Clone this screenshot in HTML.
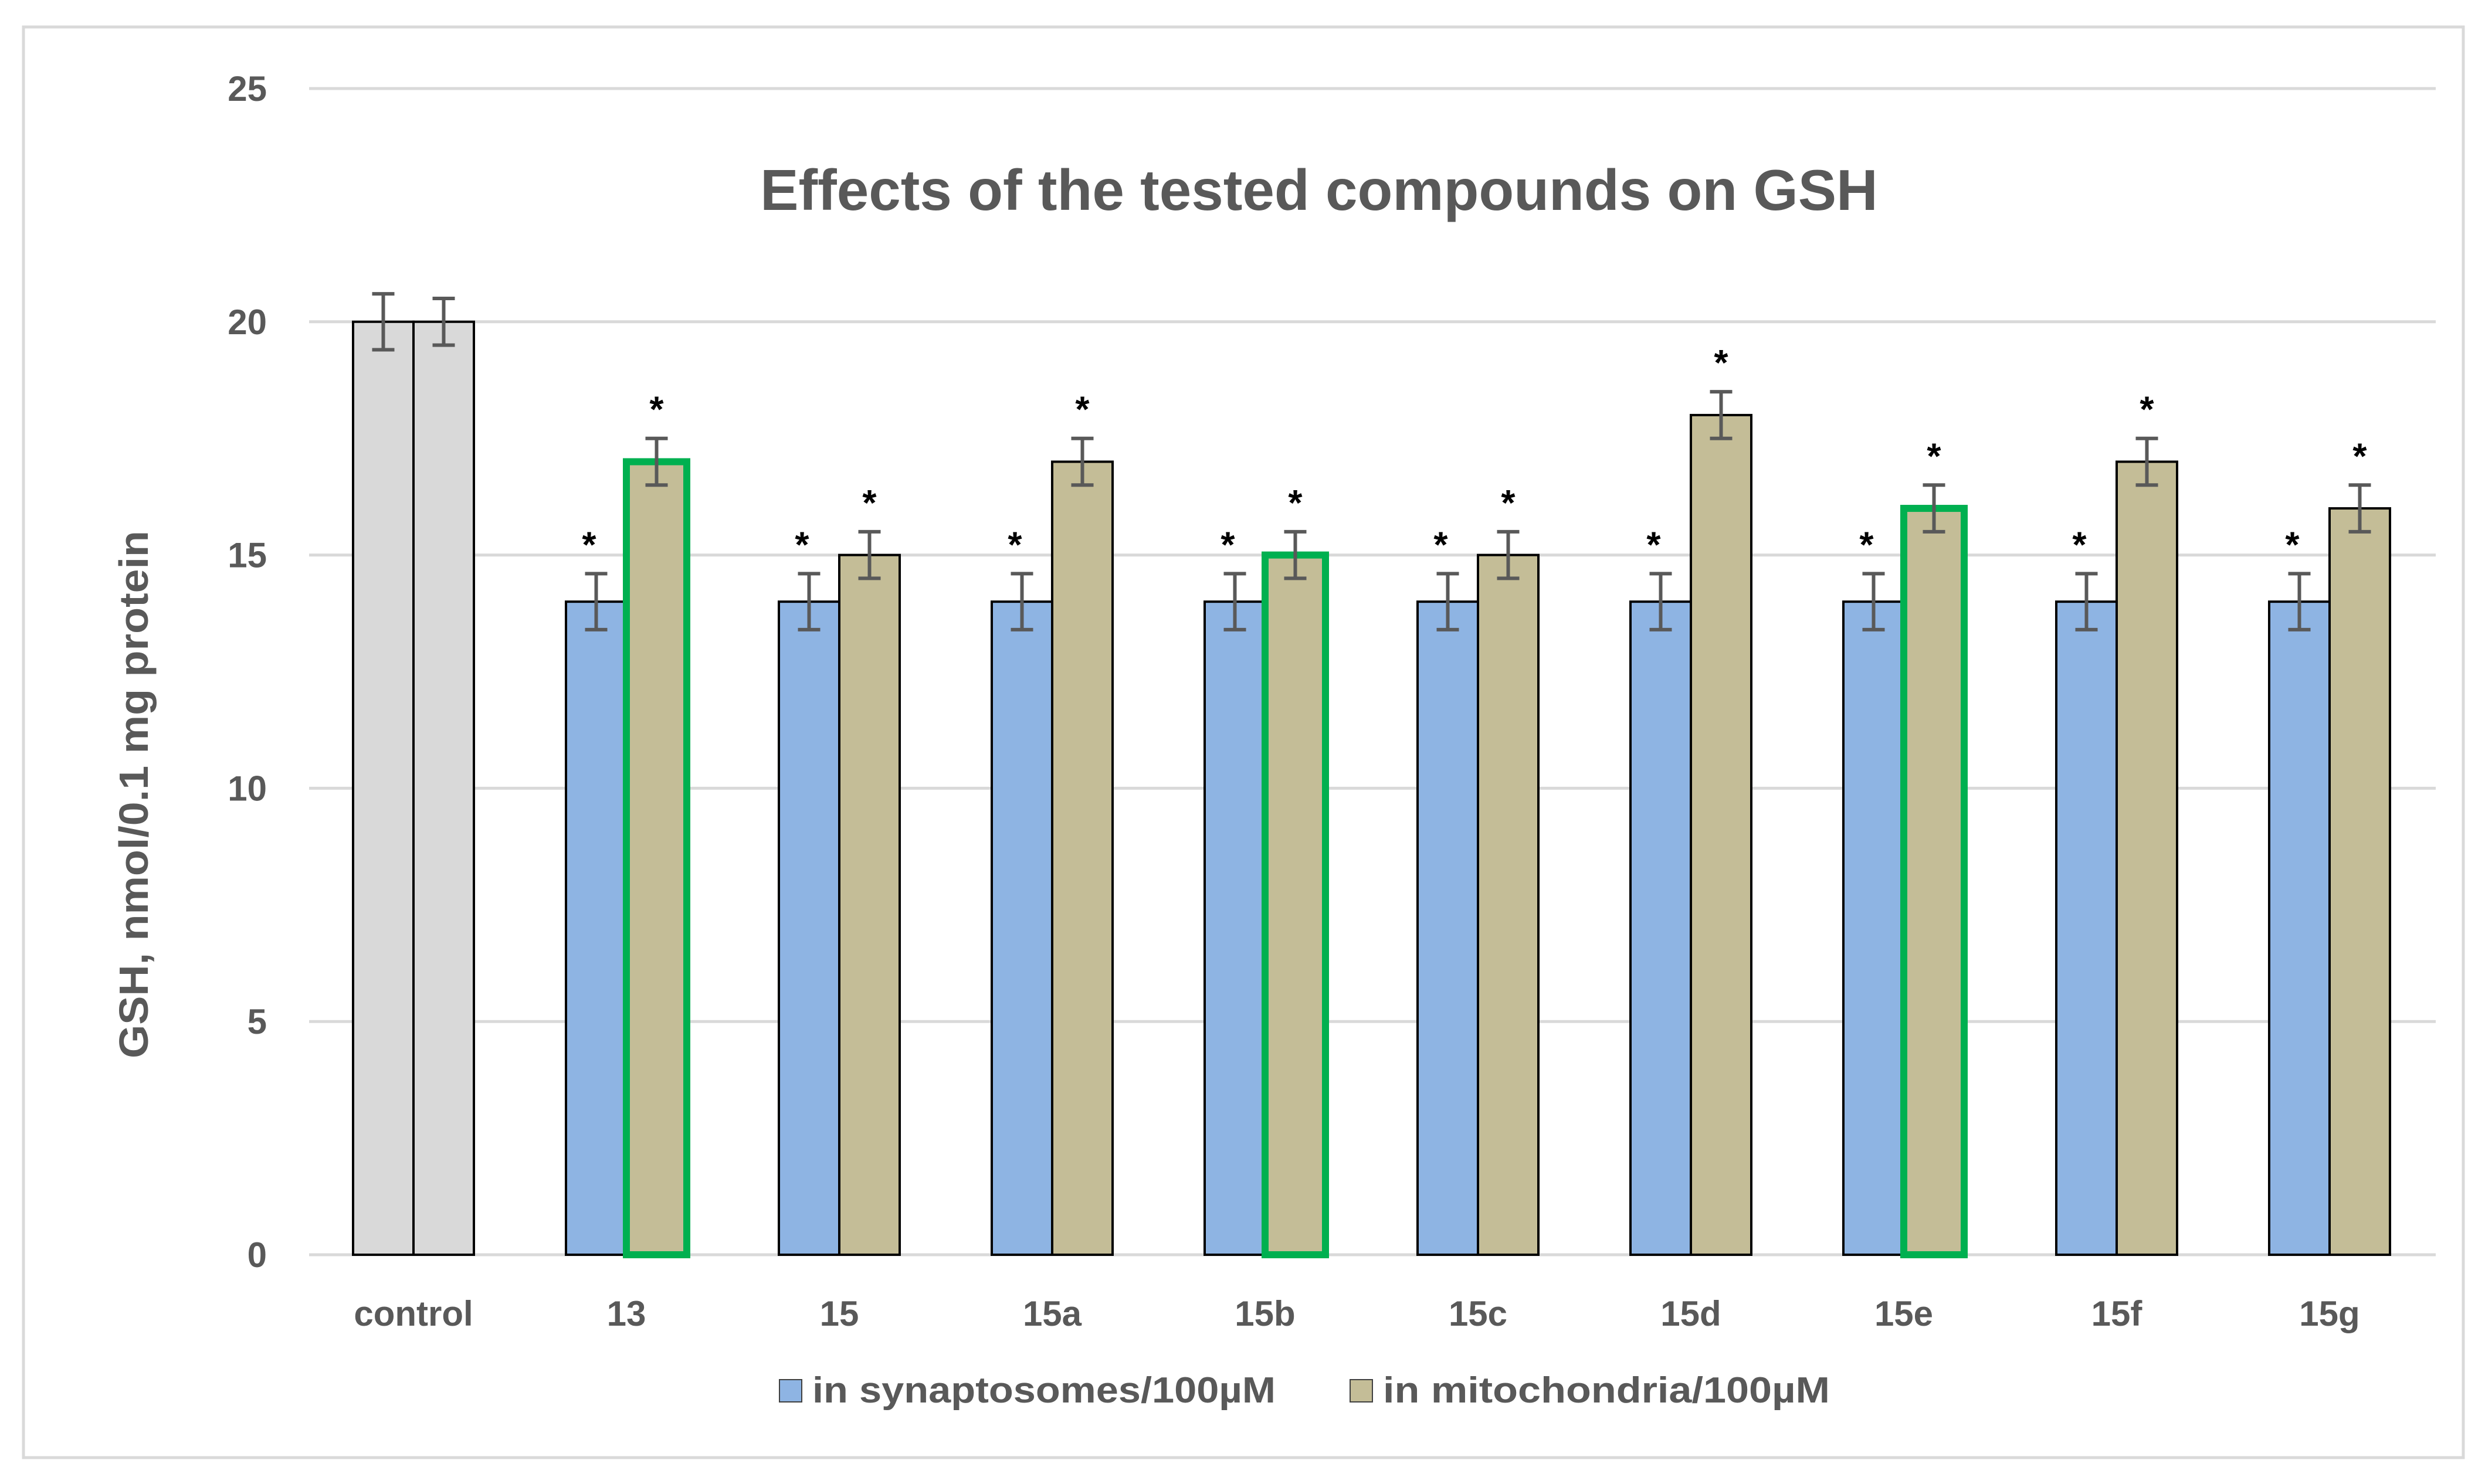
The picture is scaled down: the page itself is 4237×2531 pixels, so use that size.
<!DOCTYPE html>
<html><head><meta charset="utf-8"><style>
html,body{margin:0;padding:0;background:#fff}
svg{display:block;font-family:"Liberation Sans",sans-serif}
</style></head><body>
<svg id="chart" width="4237" height="2531" viewBox="0 0 4237 2531">
<rect x="40" y="46" width="4160" height="2440" fill="#fff" stroke="#d9d9d9" stroke-width="5"/>
<text x="2249" y="358" text-anchor="middle" font-size="98" font-weight="bold" fill="#595959">Effects of the tested compounds on GSH</text>
<text transform="translate(252,1355) rotate(-90)" text-anchor="middle" font-size="70" font-weight="bold" fill="#595959" textLength="900" lengthAdjust="spacingAndGlyphs">GSH, nmol/0.1 mg protein</text>
<g id="grid"></g><g id="bars"></g>
<g>
<rect x="1329" y="2353" width="38" height="38" fill="#8EB4E3" stroke="#404040" stroke-width="2"/>
<text x="1385" y="2392" font-size="62" font-weight="bold" fill="#595959" textLength="790" lengthAdjust="spacingAndGlyphs">in synaptosomes/100µM</text>
<rect x="2302" y="2353" width="38" height="38" fill="#C4BD97" stroke="#404040" stroke-width="2"/>
<text x="2358" y="2392" font-size="62" font-weight="bold" fill="#595959" textLength="762" lengthAdjust="spacingAndGlyphs">in mitochondria/100µM</text>
</g>
</svg>
<script>
const categories = ["control","13","15","15a","15b","15c","15d","15e","15f","15g"];
const synValues = [20,14,14,14,14,14,14,14,14,14];
const synErr = [0.6,0.6,0.6,0.6,0.6,0.6,0.6,0.6,0.6,0.6];
const mitoValues = [20,17,15,17,15,15,18,16,17,16];
const mitoErr = [0.5,0.5,0.5,0.5,0.5,0.5,0.5,0.5,0.5,0.5];
const highlighted = [false,true,false,false,true,false,false,true,false,false];
const significant = [false,true,true,true,true,true,true,true,true,true];
const yTicks = [0,5,10,15,20,25];

const NS="http://www.w3.org/2000/svg";
const y0=2140, yTop=151, yMax=25;
const yScale=v=>y0-(y0-yTop)*v/yMax;
const cx0=705, step=363, bw=103;
const xCenter=i=>cx0+i*step;
function mk(tag,attrs,parent){const e=document.createElementNS(NS,tag);for(const k in attrs)e.setAttribute(k,attrs[k]);parent.appendChild(e);return e;}
const grid=document.getElementById('grid'), bars=document.getElementById('bars');
yTicks.forEach(t=>{
  const l=mk('line',{x1:527,x2:4153,y1:yScale(t),y2:yScale(t),stroke:'#d9d9d9','stroke-width':5},grid);
  
  
  const tx=mk('text',{x:455,y:yScale(t)+21,'text-anchor':'end','font-size':60,'font-weight':'bold',fill:'#595959'},grid);
  tx.textContent=t;
  
  
});
function errBar(x,v,e,name){
  const g=mk('g',{stroke:'#595959','stroke-width':6},bars);
  
  
  mk('line',{x1:x,x2:x,y1:yScale(v+e),y2:yScale(v-e)},g);
  mk('line',{x1:x-19,x2:x+19,y1:yScale(v+e),y2:yScale(v+e)},g);
  mk('line',{x1:x-19,x2:x+19,y1:yScale(v-e),y2:yScale(v-e)},g);
}
function star(x,v,e,name){
  const t=mk('text',{x:x,y:yScale(v+e)-28,'text-anchor':'middle','font-size':62,'font-weight':'bold',fill:'#000'},bars);
  t.textContent='*';
  
  
}
categories.forEach((c,i)=>{
  const cx=xCenter(i);
  const ctrl=i===0;
  const r1=mk('rect',{x:cx-bw,y:yScale(synValues[i]),width:bw,height:y0-yScale(synValues[i]),fill:ctrl?'#D9D9D9':'#8EB4E3',stroke:'#000','stroke-width':4},bars);
  
  
  const hl=highlighted[i];
  const r2=mk('rect',{x:cx,y:yScale(mitoValues[i]),width:bw,height:y0-yScale(mitoValues[i]),fill:ctrl?'#D9D9D9':'#C4BD97',stroke:hl?'#00B050':'#000','stroke-width':hl?12:4},bars);
  
  
  errBar(cx-bw/2,synValues[i],synErr[i],'error-bar-synaptosomes-'+c);
  errBar(cx+bw/2,mitoValues[i],mitoErr[i],'error-bar-mitochondria-'+c);
  if(significant[i]){
    star(cx-bw/2-12,synValues[i],synErr[i],'significance-synaptosomes-'+c);
    star(cx+bw/2,mitoValues[i],mitoErr[i],'significance-mitochondria-'+c);
  }
  const lab=mk('text',{x:cx,y:2261,'text-anchor':'middle','font-size':60,'font-weight':'bold',fill:'#595959'},bars);
  lab.textContent=c;
  
  
});
</script>
</body></html>
